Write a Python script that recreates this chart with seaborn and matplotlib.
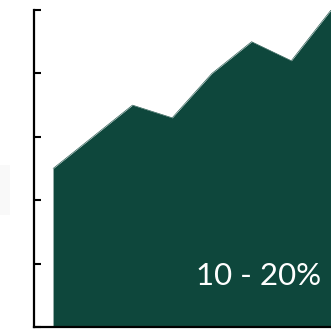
import matplotlib
matplotlib.use("Agg")
import matplotlib.pyplot as plt
import seaborn as sns
import pandas as pd
from matplotlib.patches import Rectangle

# Series values
periods = [0, 1, 2, 3, 4, 5, 6, 7]
values = [25, 30, 35, 33, 40, 45, 42, 50]
y_ticks = [0, 10, 20, 30, 40, 50]
range_label = "10 - 20%"

fill_color = "#0e473c"

sns.set_theme(style="white")
plt.rcParams["font.family"] = ["Lato", "DejaVu Sans"]

df = pd.DataFrame({"period": periods, "value": values})

fig = plt.figure(figsize=(3.31, 3.33), dpi=100)
ax = fig.add_axes([34 / 331, 6 / 333, 297 / 331, 317 / 333])

sns.lineplot(data=df, x="period", y="value", ax=ax, color=fill_color, linewidth=0.4)
ax.fill_between(df["period"], df["value"], 0, color=fill_color, linewidth=0)

ax.set_xlim(-0.48, 7.0)
ax.set_ylim(0, 50)
ax.set_yticks(y_ticks)
ax.set_yticklabels([])
ax.set_xticks([])
ax.set_xlabel("")
ax.set_ylabel("")

for side in ["top", "right"]:
    ax.spines[side].set_visible(False)
for side in ["left", "bottom"]:
    ax.spines[side].set_color("black")
    ax.spines[side].set_linewidth(1.6)
    ax.spines[side].set_zorder(5)
ax.tick_params(axis="y", direction="in", length=5, width=1.5, color="black", left=True)

ax.text(5.18, 6.6, range_label, color="#ffffff", fontsize=22.5, fontweight="normal",
        ha="center", va="baseline", zorder=10)

# faint panel edge at the left margin
fig.patches.append(Rectangle((0, 118 / 333), 10 / 331, 50 / 333, transform=fig.transFigure,
                             facecolor="#f9f9f9", edgecolor="none"))

fig.savefig("out.png", dpi=100)
